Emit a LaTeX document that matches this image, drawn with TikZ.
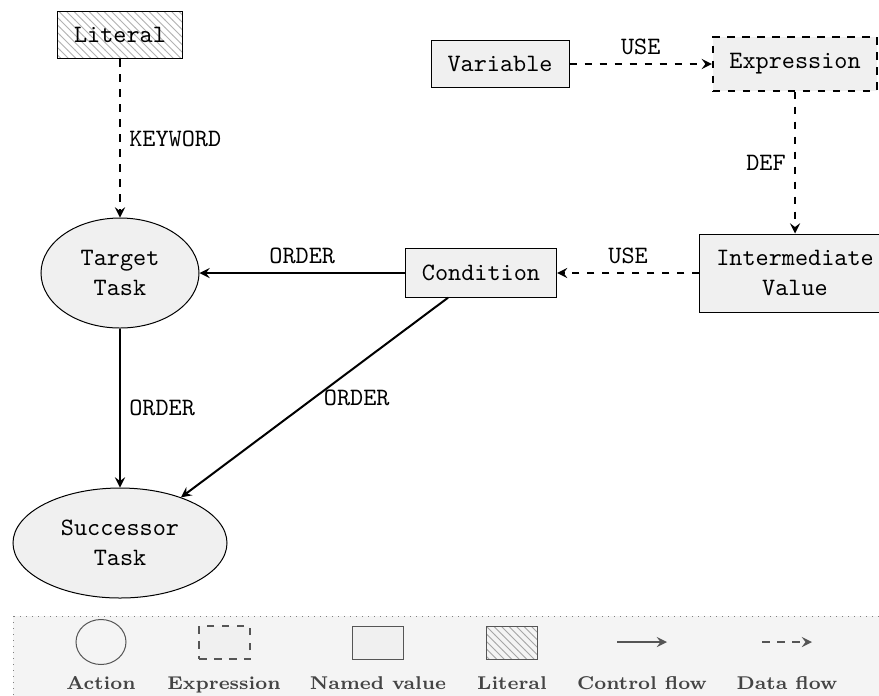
\RequirePackage{fix-cm}
\documentclass[tikz,border=0pt]{standalone}
\usetikzlibrary{shapes.geometric,patterns,arrows.meta}
\definecolor{nodefill}{HTML}{F0F0F0}
\definecolor{legbg}{HTML}{F4F4F4}
\definecolor{legdraw}{HTML}{555555}
\definecolor{legtext}{HTML}{444444}
\begin{document}
\begin{tikzpicture}[x=0.4pt,y=-0.4pt,
  named/.style={draw, fill=nodefill, font=\ttfamily, inner xsep=6.6pt, inner ysep=6.5pt, align=center},
  exprbox/.style={named, dashed, thick},
  litbox/.style={draw, font=\ttfamily, inner xsep=6.6pt, inner ysep=6.5pt, pattern=north west lines, pattern color=gray!60},
  act/.style={draw, ellipse, fill=nodefill, font=\ttfamily, align=center, inner sep=0pt},
  ctrl/.style={thick, -stealth},
  data/.style={thick, dashed, -stealth},
  lbl/.style={font=\ttfamily},
  legbox/.style={draw=gray, dotted, fill=legbg},
  legact/.style={draw=legdraw, ellipse, minimum width=20pt, minimum height=18pt, inner sep=0pt},
  legexpr/.style={draw=legdraw, thick, dashed, fill=nodefill, minimum width=20.4pt, minimum height=13.2pt, inner sep=0pt},
  legnamed/.style={draw=legdraw, fill=nodefill, minimum width=20.4pt, minimum height=13.2pt, inner sep=0pt},
  leglit/.style={draw=legdraw, pattern=north west lines, pattern color=gray!70, minimum width=20.4pt, minimum height=13.2pt, inner sep=0pt},
  legctrl/.style={draw=legdraw, thick, -stealth},
  legdata/.style={draw=legdraw, thick, dashed, -stealth},
  legtxt/.style={font=\fontsize{7.4pt}{9pt}\selectfont\bfseries, text=legtext, anchor=base, inner sep=0pt}
]
\clip (0,0) rectangle (879,695);
\fill[white] (0,0) rectangle (879,695);

% legend background
\draw[legbox] (13,616) rectangle (900,720);

% main nodes
\node[litbox] (literal) at (120,35) {Literal};
\node[act, minimum width=63.2pt, minimum height=44pt] (target) at (120,273) {Target\\Task};
\node[act, minimum width=85.6pt, minimum height=44pt] (succ) at (120,543) {Successor\\Task};
\node[named] (cond) at (481,273) {Condition};
\node[named] (var) at (500,64) {Variable};
\node[exprbox] (expr) at (795,64) {Expression};
\node[named] (inter) at (795,273) {Intermediate\\Value};

% connectors
\draw[data] (literal) -- node[lbl,right] {KEYWORD} (target);
\draw[data] (var) -- node[lbl,above] {USE} (expr);
\draw[data] (expr) -- node[lbl,left] {DEF} (inter);
\draw[data] (inter) -- node[lbl,above] {USE} (cond);
\draw[ctrl] (cond) -- node[lbl,above] {ORDER} (target);
\draw[ctrl] (target) -- node[lbl,right] {ORDER} (succ);
\draw[ctrl] (cond) -- node[lbl,right] {ORDER} (succ);

% legend
\node[legact] (la) at (101,642) {};
\node[legexpr] (le) at (224.5,642.5) {};
\node[legnamed] (ln) at (378,643) {};
\node[leglit] (ll) at (512,643) {};
\coordinate (cfa) at (617,642);
\coordinate (cfb) at (667,642);
\draw[legctrl] (cfa) -- (cfb);
\coordinate (dfa) at (762,642);
\coordinate (dfb) at (812,642);
\draw[legdata] (dfa) -- (dfb);
\node[legtxt] (lta) at (101,689) {Action};
\node[legtxt] (lte) at (224,689) {Expression};
\node[legtxt] (ltn) at (378,689) {Named value};
\node[legtxt] (ltl) at (512,689) {Literal};
\node[legtxt] (ltc) at (642,689) {Control flow};
\node[legtxt] (ltd) at (787,689) {Data flow};
\end{tikzpicture}
\end{document}
